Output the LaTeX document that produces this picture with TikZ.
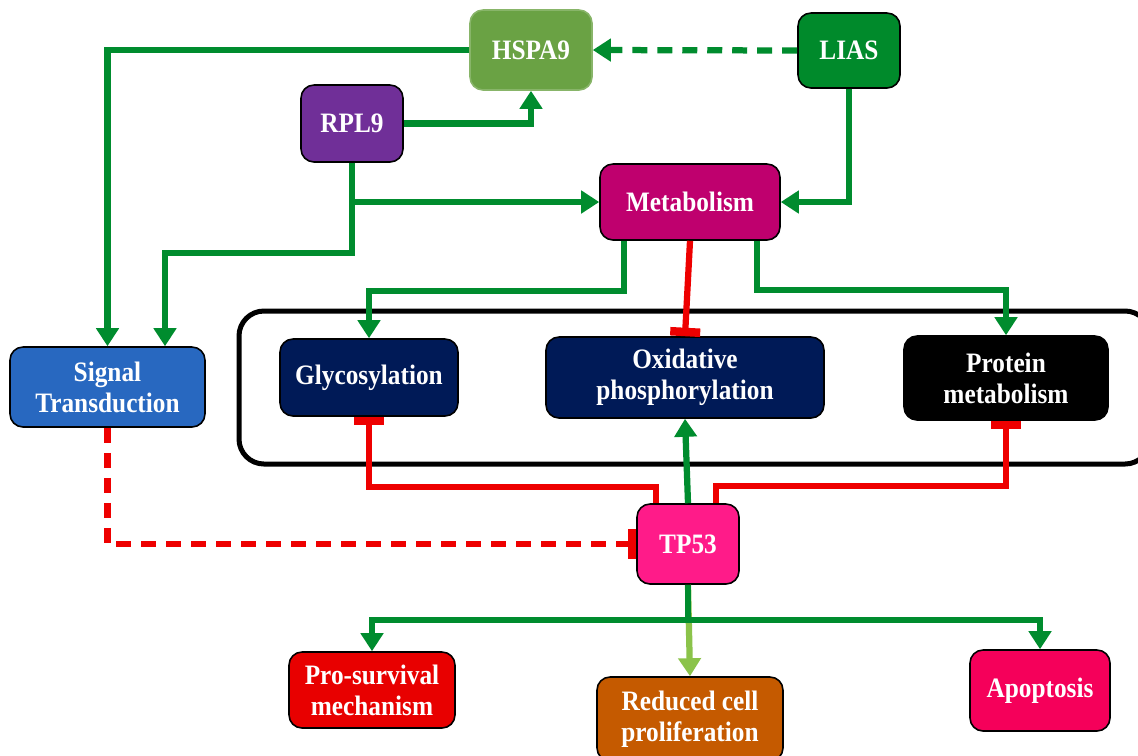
\documentclass[tikz,border=0pt]{standalone}
\usepackage{fontspec}
\setmainfont{Liberation Serif}[FakeStretch=0.9]
\usetikzlibrary{arrows.meta}
\definecolor{cHspa}{HTML}{6AA244}
\definecolor{cLias}{HTML}{008A2B}
\definecolor{cRpl}{HTML}{702F98}
\definecolor{cMet}{HTML}{BF006E}
\definecolor{cSig}{HTML}{2868C0}
\definecolor{cNavy}{HTML}{001A57}
\definecolor{cTp}{HTML}{FF1B89}
\definecolor{cPro}{HTML}{E80000}
\definecolor{cRed}{HTML}{C55A00}
\definecolor{cApo}{HTML}{F5005A}
\definecolor{lGreen}{HTML}{008C2E}
\definecolor{lRed}{HTML}{EE0000}
\definecolor{lLight}{HTML}{8BC34A}
\tikzset{
  box/.style={draw=black, line width=0.9pt, rounded corners=0.26cm, inner sep=0pt,
    text=white, align=center, font=\bfseries\fontsize{16}{17.6}\selectfont},
  link/.style={line width=0.125cm},
  act/.style={link, draw=lGreen, -{Triangle[length=0.36cm,width=0.44cm]}},
  inh/.style={link, draw=lRed, -{Bar[width=0.6cm,line width=0.17cm]}},
  dashline/.style={dash pattern=on 0.3cm off 0.2cm}
}
\begin{document}
\begin{tikzpicture}[x=0.02cm,y=-0.02cm]
\useasboundingbox (0,0) rectangle (1138,755);
\clip (0,0) rectangle (1138,755);
% group frame
\draw[line width=0.1cm, rounded corners=0.5cm] (239,311) rectangle (1150,464);
% nodes
\node[box, fill=cHspa, draw=cHspa!80!white, minimum width=2.44cm, minimum height=1.6cm] (hspa) at (531,50) {HSPA9};
\node[box, fill=cLias, minimum width=2.04cm, minimum height=1.5cm] (lias) at (849,50.5) {LIAS};
\node[box, fill=cRpl, minimum width=2.04cm, minimum height=1.54cm] (rpl) at (352,123.5) {RPL9};
\node[box, fill=cMet, minimum width=3.6cm, minimum height=1.52cm] (met) at (690,202) {Metabolism};
\node[box, fill=cSig, minimum width=3.9cm, minimum height=1.6cm] (sig) at (107.5,387) {Signal\\Transduction};
\node[box, fill=cNavy, minimum width=3.56cm, minimum height=1.54cm] (gly) at (369,377.5) {Glycosylation};
\node[box, fill=cNavy, minimum width=5.56cm, minimum height=1.62cm] (oxi) at (685,377.5) {Oxidative\\phosphorylation};
\node[box, fill=black, minimum width=4.08cm, minimum height=1.68cm] (prot) at (1006,378) {Protein\\metabolism};
\node[box, fill=cTp, minimum width=2.04cm, minimum height=1.6cm] (tp) at (688,544) {TP53};
\node[box, fill=cPro, minimum width=3.32cm, minimum height=1.52cm] (pro) at (372,690) {Pro-survival\\mechanism};
\node[box, fill=cRed, minimum width=3.72cm, minimum height=1.68cm] (red) at (690,719) {Reduced cell\\proliferation};
\node[box, fill=cApo, minimum width=2.8cm, minimum height=1.62cm] (apo) at (1040,690.5) {Apoptosis};
\coordinate (sigin) at (165,253);
% top connectors
\draw[act] (hspa.west) -| (sig.north);
\draw[act, dashline] (lias.west) -- (hspa.east);
\draw[act] (rpl.east) -| (hspa.south);
\draw[act] (rpl.south) |- (met.west);
\draw[act] (rpl.south) |- (sigin) -- (sigin |- sig.north);
\draw[act] (lias.south) |- (met.east);
% metabolism outputs
\draw[act] ([shift={(-66,0)}]met.south) -- ++(0,50) -| (gly.north);
\draw[inh] (met.south) -- (oxi.north);
\draw[act] ([shift={(67,0)}]met.south) -- ++(0,49) -| (prot.north);
% TP53 links
\draw[inh] ([shift={(-32,0)}]tp.north) -- ++(0,-16) -| (gly.south);
\draw[act] (tp.north) -- (oxi.south);
\draw[inh] ([shift={(28,0)}]tp.north) -- ++(0,-17) -| (prot.south);
\draw[inh, dashline] (sig.south) |- (tp.west);
% TP53 outputs
\draw[link, draw=lLight, -{Triangle[length=0.36cm,width=0.44cm]}] (tp.south) -- (red.north);
\draw[act] (tp.south) -- ++(0,35) -| (pro.north);
\draw[act] (tp.south) -- ++(0,35) -| (apo.north);
\end{tikzpicture}
\end{document}
